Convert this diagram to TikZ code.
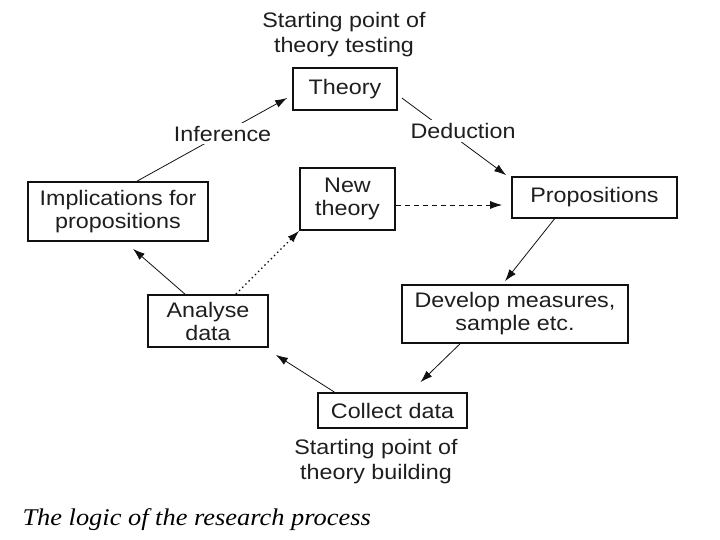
\documentclass[tikz,border=0pt]{standalone}
\usepackage{fontspec}
\setmainfont{Liberation Sans}[FakeStretch=1.11]
\newfontfamily\capfont{Liberation Serif}[FakeStretch=1.1]
\usepackage{xcolor}
\usetikzlibrary{arrows.meta,calc}
\definecolor{rpink}{HTML}{1E1E1E}
\definecolor{rpline}{HTML}{111111}
\tikzset{
  box/.style={draw=rpline,line width=1.7pt,fill=white,text=rpink,
    align=center,inner sep=0pt,font=\fontsize{21}{23}\selectfont},
  lbl/.style={text=rpink,align=center,font=\fontsize{21}{25}\selectfont},
  link/.style={-{Latex[length=12pt,width=8pt]},rpline,line width=0.8pt},
}
\begin{document}
\begin{tikzpicture}[x=1pt,y=-1pt]
\useasboundingbox (0,0) rectangle (720,540);
% boxes
\node[box,minimum width=104pt,minimum height=42pt] (theory) at (345,89) {Theory};
\node[box,minimum width=180pt,minimum height=59pt] (impl) at (118,211.5)
  {Implications for\\propositions};
\node[box,minimum width=95pt,minimum height=62pt] (newth) at (347.5,199)
  {New\\theory};
\node[box,minimum width=165pt,minimum height=41pt] (props) at (594.5,197.5)
  {Propositions};
\node[box,minimum width=226pt,minimum height=58pt] (develop) at (515,314)
  {Develop measures,\\sample etc.};
\node[box,minimum width=149pt,minimum height=35pt] (collect) at (392.5,410.5)
  {Collect data};
\node[box,minimum width=120pt,minimum height=52pt] (analyse) at (208,321)
  {Analyse\\data};
% texts
\node[lbl] (testing) at (344,35) {Starting point of\\theory testing};
\node[lbl] (building) at (376,462) {Starting point of\\theory building};
\node[anchor=west,font=\capfont\itshape\fontsize{24}{26}\selectfont] (caption)
  at (19,520) {The logic of the research process};
% links
\draw[link] ([xshift=19pt]impl.north) -- node[lbl,fill=white,inner sep=3pt,pos=0.57] (infer) {Inference}
  ([shift={(-5,9)}]theory.west);
\draw[link] ([shift={(4,9)}]theory.east) -- node[lbl,fill=white,inner sep=3pt,pos=0.52,xshift=7pt,yshift=7pt] (deduct) {Deduction}
  ([shift={(-5,-1)}]props.north west);
\draw[link,dashed,dash pattern=on 5pt off 4pt] (newth.east |- 0,205) -- ([xshift=-9pt]props.west |- 0,205);
\draw[link] ([xshift=-40pt]props.south) -- ([shift={(-10,-3)}]develop.north);
\draw[link] ([xshift=-55pt]develop.south) -- ([shift={(28,-10)}]collect.north);
\draw[link] ([xshift=-58pt]collect.north) -- ([shift={(7,7)}]analyse.south east);
\draw[link] ([xshift=-23pt]analyse.north) -- ([shift={(15,7)}]impl.south);
\draw[link,dash pattern=on 1.5pt off 3pt,line width=1.2pt] ([xshift=-33pt]analyse.north east) -- (newth.south west);
\end{tikzpicture}
\end{document}
